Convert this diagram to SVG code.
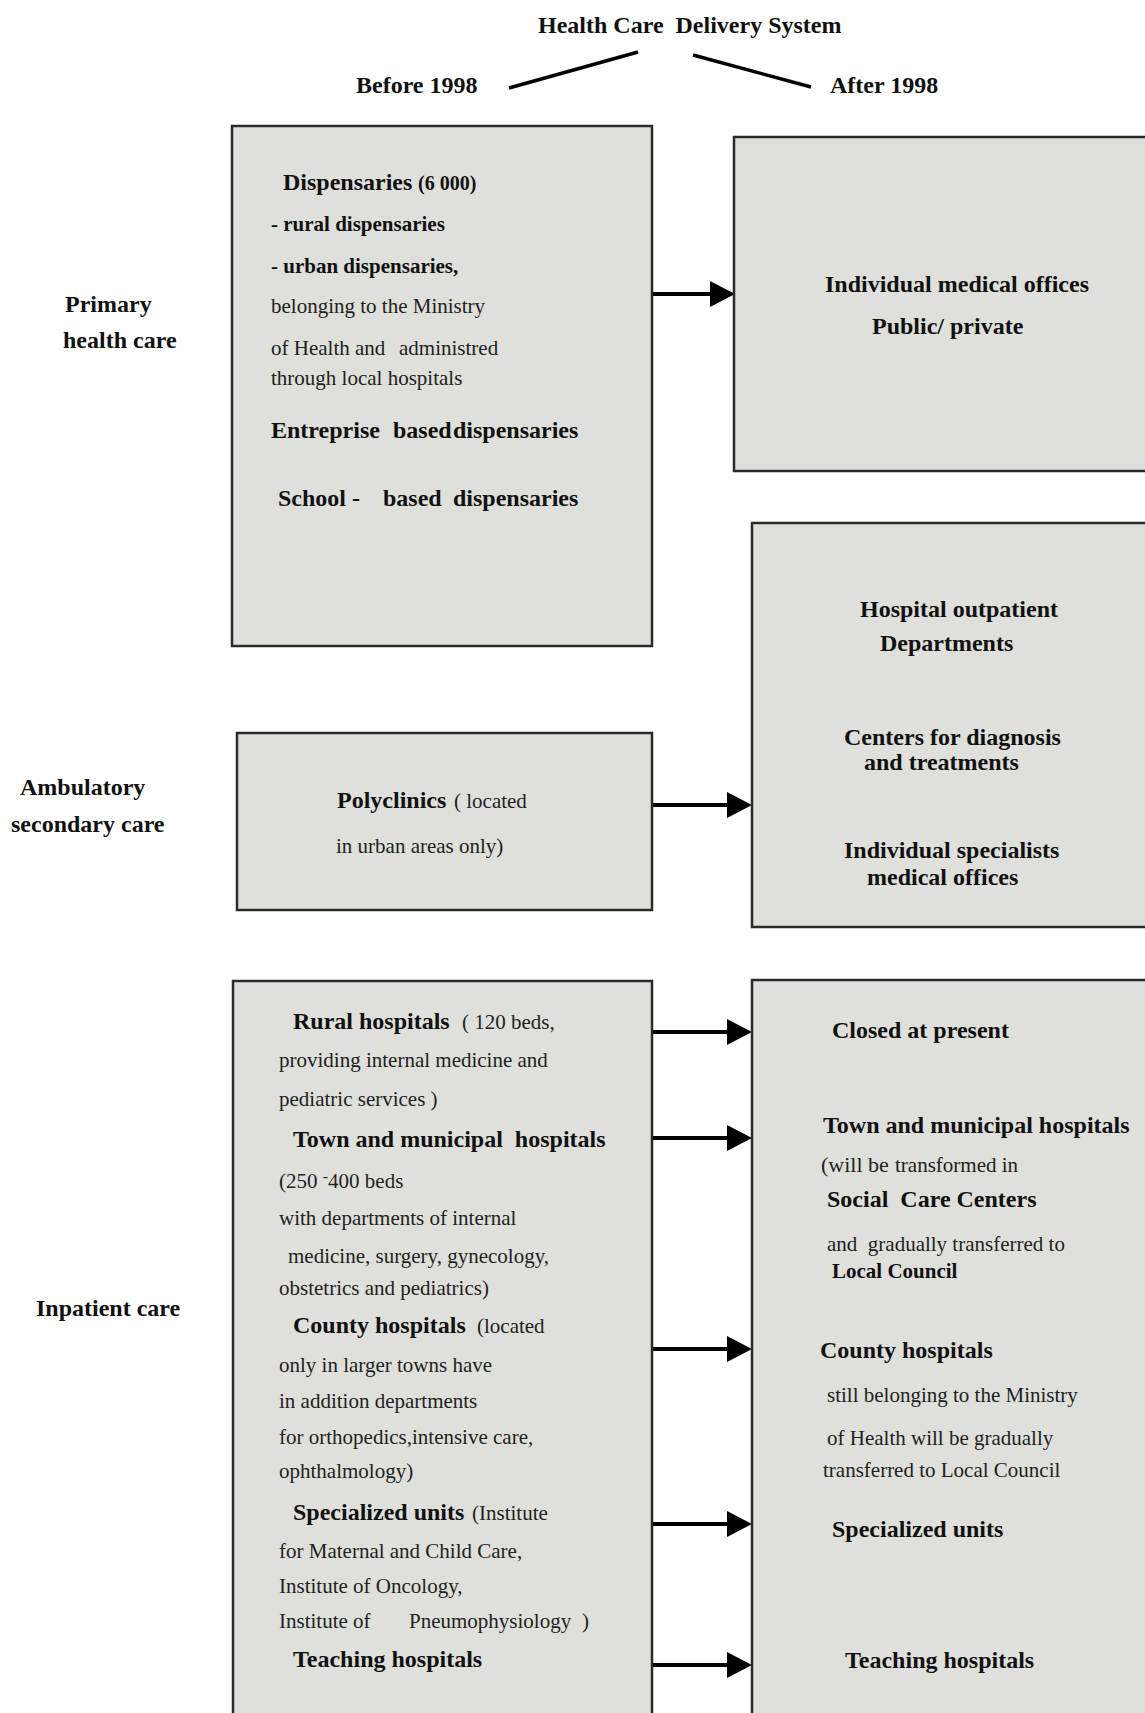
<svg xmlns="http://www.w3.org/2000/svg" width="1145" height="1713" viewBox="0 0 1145 1713">
<defs>
<style>
text{white-space:pre}
.box{fill:#dfdfdc;stroke:#2a2a2a;stroke-width:2.5}
.b{font-family:"Liberation Serif","Times New Roman",serif;font-weight:bold;font-size:24px;fill:#111}
.bs{font-family:"Liberation Serif","Times New Roman",serif;font-weight:bold;font-size:21px;fill:#111}
.r{font-family:"Liberation Serif","Times New Roman",serif;font-size:21px;fill:#222}
.conn{stroke:#000;stroke-width:4;fill:none}
.tline{stroke:#000;stroke-width:3.5;fill:none}
</style>
<marker id="ah" viewBox="0 0 25 26" refX="0" refY="13" markerWidth="25" markerHeight="26" markerUnits="userSpaceOnUse" orient="auto">
<path d="M0,0 L25,13 L0,26 Z" fill="#000"/>
</marker>
</defs>
<rect width="1145" height="1713" fill="#fff"/>

<g id="header">
<text class="b" x="538" y="33" xml:space="preserve">Health Care  Delivery System</text>
<text class="b" x="356" y="93">Before 1998</text>
<text class="b" x="830" y="93">After 1998</text>
</g>

<g id="row-labels">
<text class="b" x="65" y="312">Primary</text>
<text class="b" x="63" y="348">health care</text>
<text class="b" x="20" y="795">Ambulatory</text>
<text class="b" x="11" y="832">secondary care</text>
<text class="b" x="36" y="1316">Inpatient care</text>
</g>

<g id="connectors">
<line class="tline" x1="509" y1="88" x2="638" y2="52"/>
<line class="tline" x1="693" y1="55" x2="811" y2="87"/>
<line class="conn" x1="652" y1="294" x2="710" y2="294" marker-end="url(#ah)"/>
<line class="conn" x1="652" y1="805" x2="727" y2="805" marker-end="url(#ah)"/>
<line class="conn" x1="652" y1="1032" x2="727" y2="1032" marker-end="url(#ah)"/>
<line class="conn" x1="652" y1="1138" x2="727" y2="1138" marker-end="url(#ah)"/>
<line class="conn" x1="652" y1="1349" x2="727" y2="1349" marker-end="url(#ah)"/>
<line class="conn" x1="652" y1="1524" x2="727" y2="1524" marker-end="url(#ah)"/>
<line class="conn" x1="652" y1="1665" x2="727" y2="1665" marker-end="url(#ah)"/>
</g>

<g id="primary-before">
<rect class="box" x="232" y="126" width="420" height="520"/>
<text class="b" x="283" y="190">Dispensaries</text>
<text class="bs" x="418" y="190" style="font-size:20px">(6 000)</text>
<text class="bs" x="271" y="231">- rural dispensaries</text>
<text class="bs" x="271" y="273">- urban dispensaries,</text>
<text class="r" x="271" y="313">belonging to the Ministry</text>
<text class="r" x="271" y="355">of Health and<tspan x="399">administred</tspan></text>
<text class="r" x="271" y="385">through local hospitals</text>
<text class="b" x="271" y="438">Entreprise<tspan x="393">based</tspan><tspan x="453">dispensaries</tspan></text>
<text class="b" x="278" y="506">School -<tspan x="383">based</tspan><tspan x="453">dispensaries</tspan></text>
</g>

<g id="primary-after">
<rect class="box" x="734" y="137" width="430" height="334"/>
<text class="b" x="825" y="292">Individual medical offices</text>
<text class="b" x="872" y="334">Public/ private</text>
</g>

<g id="ambulatory-before">
<rect class="box" x="237" y="733" width="415" height="177"/>
<text class="b" x="337" y="808">Polyclinics</text>
<text class="r" x="454" y="808">( located</text>
<text class="r" x="336" y="853">in urban areas only)</text>
</g>

<g id="ambulatory-after">
<rect class="box" x="752" y="523" width="412" height="404"/>
<text class="b" x="860" y="617">Hospital outpatient</text>
<text class="b" x="880" y="651">Departments</text>
<text class="b" x="844" y="745">Centers for diagnosis</text>
<text class="b" x="864" y="770">and treatments</text>
<text class="b" x="844" y="858">Individual specialists</text>
<text class="b" x="867" y="885">medical offices</text>
</g>

<g id="inpatient-before">
<rect class="box" x="233" y="981" width="419" height="760"/>
<text class="b" x="293" y="1029">Rural hospitals</text>
<text class="r" x="462" y="1029">( 120 beds,</text>
<text class="r" x="279" y="1067">providing internal medicine and</text>
<text class="r" x="279" y="1106">pediatric services )</text>
<text class="b" x="293" y="1147" xml:space="preserve">Town and municipal  hospitals</text>
<text class="r" x="279" y="1188">(250 <tspan dy="-6" style="font-size:16px">-</tspan><tspan dy="6">400 beds</tspan></text>
<text class="r" x="279" y="1225">with departments of internal</text>
<text class="r" x="288" y="1263">medicine, surgery, gynecology,</text>
<text class="r" x="279" y="1295">obstetrics and pediatrics)</text>
<text class="b" x="293" y="1333">County hospitals</text>
<text class="r" x="477" y="1333">(located</text>
<text class="r" x="279" y="1372">only in larger towns have</text>
<text class="r" x="279" y="1408">in addition departments</text>
<text class="r" x="279" y="1444">for orthopedics,intensive care,</text>
<text class="r" x="279" y="1478">ophthalmology)</text>
<text class="b" x="293" y="1520">Specialized units</text>
<text class="r" x="472" y="1520">(Institute</text>
<text class="r" x="279" y="1558">for Maternal and Child Care,</text>
<text class="r" x="279" y="1593">Institute of Oncology,</text>
<text class="r" x="279" y="1628">Institute of<tspan x="409">Pneumophysiology</tspan><tspan x="582">)</tspan></text>
<text class="b" x="293" y="1667">Teaching hospitals</text>
</g>

<g id="inpatient-after">
<rect class="box" x="752" y="980" width="412" height="761"/>
<text class="b" x="832" y="1038">Closed at present</text>
<text class="b" x="823" y="1133">Town and municipal hospitals</text>
<text class="r" x="821" y="1172" style="font-size:22px">(will be</text>
<text class="r" x="895" y="1172">transformed in</text>
<text class="b" x="827" y="1207" xml:space="preserve">Social  Care Centers</text>
<text class="r" x="827" y="1251" xml:space="preserve">and  gradually transferred to</text>
<text class="bs" x="832" y="1278">Local Council</text>
<text class="b" x="820" y="1358">County hospitals</text>
<text class="r" x="827" y="1402">still belonging to the Ministry</text>
<text class="r" x="827" y="1445">of Health will be gradually</text>
<text class="r" x="823" y="1477">transferred to Local Council</text>
<text class="b" x="832" y="1537">Specialized units</text>
<text class="b" x="845" y="1668">Teaching hospitals</text>
</g>
</svg>
